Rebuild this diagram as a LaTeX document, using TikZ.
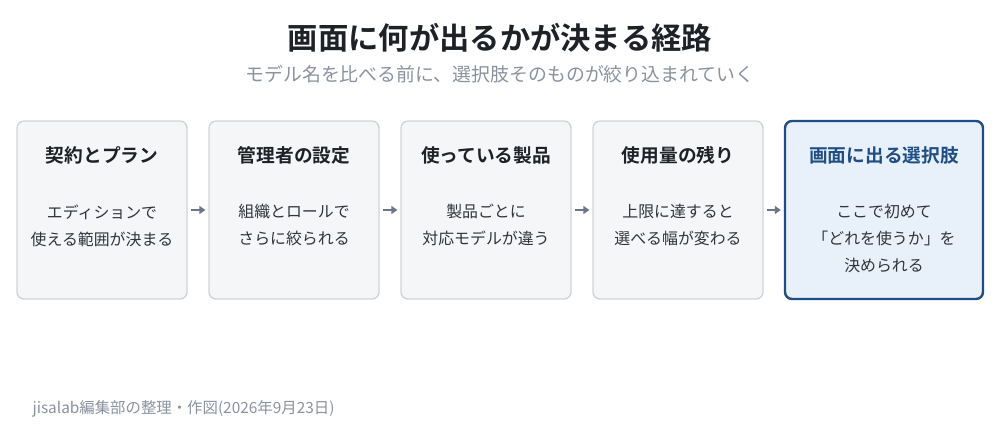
\documentclass[tikz,border=0pt]{standalone}
\usepackage{fontspec}
\setmainfont{Noto Sans CJK JP}[BoldFont={Noto Sans CJK JP Bold}]
\usetikzlibrary{arrows.meta,positioning}
\definecolor{ttl}{HTML}{1E2227}
\definecolor{sub}{HTML}{8A929E}
\definecolor{boxfill}{HTML}{F5F6F8}
\definecolor{boxline}{HTML}{CFD4DA}
\definecolor{hifill}{HTML}{E8F0F9}
\definecolor{hiline}{HTML}{1F4E85}
\definecolor{arr}{HTML}{6B7686}
\definecolor{bodytxt}{HTML}{30353B}
\tikzset{
  card/.style={draw=boxline, line width=1.3pt, fill=boxfill, rounded corners=7pt,
    minimum width=170pt, minimum height=178pt, inner sep=0pt},
  hicard/.style={card, draw=hiline, line width=2.4pt, fill=hifill, minimum width=198pt},
  cardtitle/.style={font=\bfseries\fontsize{18.7}{22}\selectfont, text=ttl, anchor=center},
  hititle/.style={cardtitle, text=hiline},
  cardbody/.style={font=\fontsize{15.9}{27}\selectfont, text=bodytxt, align=center, anchor=north},
  flow/.style={draw=arr, line width=1.8pt, -{Triangle[length=6pt,width=8pt]}},
}
\begin{document}
\begin{tikzpicture}[x=1pt,y=-1pt]
\useasboundingbox (0,0) rectangle (1000,440);
\node[font=\bfseries\fontsize{30.3}{34}\selectfont, text=ttl] (title) at (500,38) {画面に何が出るかが決まる経路};
\node[font=\fontsize{18.9}{22}\selectfont, text=sub] (subtitle) at (500,74) {モデル名を比べる前に、選択肢そのものが絞り込まれていく};

\node[card] (c1) at (102,210) {};
\node[card] (c2) at (294,210) {};
\node[card] (c3) at (486,210) {};
\node[card] (c4) at (678,210) {};
\node[hicard] (c5) at (884,210) {};

\node[cardtitle] (t1) at (102,155) {契約とプラン};
\node[cardtitle] (t2) at (294,155) {管理者の設定};
\node[cardtitle] (t3) at (486,155) {使っている製品};
\node[cardtitle] (t4) at (678,155) {使用量の残り};
\node[hititle] (t5) at (884,155) {画面に出る選択肢};

\node[cardbody] (b1) at (102,201) {エディションで\\使える範囲が決まる};
\node[cardbody] (b2) at (294,201) {組織とロールで\\さらに絞られる};
\node[cardbody] (b3) at (486,201) {製品ごとに\\対応モデルが違う};
\node[cardbody] (b4) at (678,201) {上限に達すると\\選べる幅が変わる};
\node[cardbody] (b5) at (884,201) {ここで初めて\\「どれを使うか」を\\決められる};

\draw[flow] ([xshift=3pt]c1.east) -- ([xshift=-3pt]c2.west);
\draw[flow] ([xshift=3pt]c2.east) -- ([xshift=-3pt]c3.west);
\draw[flow] ([xshift=3pt]c3.east) -- ([xshift=-3pt]c4.west);
\draw[flow] ([xshift=3pt]c4.east) -- ([xshift=-3pt]c5.west);

\node[font=\fontsize{15.4}{18}\selectfont, text=sub, anchor=west] (foot) at (29,409) {jisalab編集部の整理・作図(2026年9月23日)};
\end{tikzpicture}
\end{document}
